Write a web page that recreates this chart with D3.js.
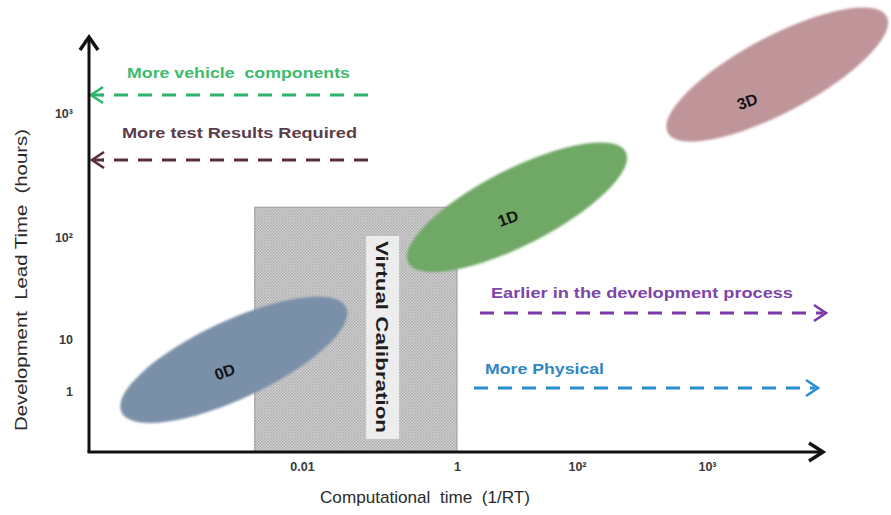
<!DOCTYPE html>
<html>
<head>
<meta charset="utf-8">
<script src="https://cdn.jsdelivr.net/npm/d3@7"></script>
<style>
  html,body{margin:0;padding:0;background:#fff;}
  svg{display:block;font-family:"Liberation Sans",Arial,sans-serif;}
</style>
</head>
<body>
<svg id="chart" width="891" height="515"></svg>
<script>
// ---- data (log10 units on both axes) ----
const xTickValues = [-2, 0, 2, 3];
const xTickLabels = ["0.01", "1", "10²", "10³"];
const yTickValues = [0, 1, 2, 3];
const yTickLabels = ["1", "10", "10²", "10³"];

const modelNames  = ["0D", "1D", "3D"];
const modelX      = [-2.88, 1.0, 3.54];   // log10 computational time
const modelY      = [0.6, 2.24, 3.31];    // log10 lead time
const modelColors = ["#7a90a9", "#6fa866", "#c0959a"];

const boxName = "Virtual Calibration";
const boxX = [-2.61, 0];
const boxY = [-0.75, 2.24];

const noteTexts  = ["More vehicle  components", "More test Results Required",
                    "Earlier in the development process", "More Physical"];
const noteColors = ["#3dbb6e", "#5c3b4a", "#7d45a8", "#2f86c6"];
const lineColors = ["#2cb56a", "#5a2e40", "#7a3aa8", "#2a8fcf"];
const noteDirs   = ["left", "left", "right", "right"];

// ---- layout ----
const svg = d3.select("#chart");
const axisX0 = 89, axisY0 = 452;

const x = d3.scaleLinear().domain(xTickValues).range([302, 457, 577, 707]);
const y = d3.scaleLinear().domain(yTickValues).range([391, 339, 237, 113]);

// pattern for the virtual calibration box
const defs = svg.append("defs");
const pat = defs.append("pattern").attr("id", "dots").attr("patternUnits", "userSpaceOnUse")
  .attr("width", 3).attr("height", 3);
pat.append("rect").attr("width", 3).attr("height", 3).attr("fill", "#d2d2d2");
pat.append("rect").attr("x", 0).attr("y", 0).attr("width", 1.5).attr("height", 1.5).attr("fill", "#a9a9a9");
pat.append("rect").attr("x", 1.5).attr("y", 1.5).attr("width", 1.5).attr("height", 1.5).attr("fill", "#b4b4b4");
defs.append("filter").attr("id", "soft").append("feGaussianBlur").attr("stdDeviation", 0.8);

// box
const bx0 = x(boxX[0]), bx1 = x(boxX[1]), by0 = y(boxY[1]);
svg.append("rect").attr("x", bx0).attr("y", by0).attr("width", bx1 - bx0).attr("height", axisY0 - by0)
  .attr("fill", "url(#dots)").attr("stroke", "#9a9a9a").attr("stroke-width", 1);
const lblCx = bx0 + (bx1 - bx0) * 0.63, lblCy = by0 + (axisY0 - by0) * 0.53;
svg.append("rect").attr("x", lblCx - 16).attr("y", lblCy - 101).attr("width", 33).attr("height", 203)
  .attr("fill", "#f1f1f1").attr("opacity", 0.92);
svg.append("text").attr("transform", `translate(${lblCx},${lblCy}) rotate(90)`)
  .attr("text-anchor", "middle").attr("dy", "0.36em")
  .attr("font-size", 17).attr("font-weight", "bold").attr("fill", "#1e1e1e")
  .attr("textLength", 192).attr("lengthAdjust", "spacingAndGlyphs").text(boxName);

// ellipses
const ellRx = [124, 122, 124], ellRy = [39, 38, 38], ellRot = [-25, -27, -28];
const lblOff = [[-9, 12], [-9, 11], [-30, 27]];
modelNames.forEach((n, i) => {
  const cx = x(modelX[i]), cy = y(modelY[i]);
  svg.append("ellipse").attr("transform", `translate(${cx},${cy}) rotate(${ellRot[i]})`)
    .attr("rx", ellRx[i]).attr("ry", ellRy[i]).attr("fill", modelColors[i]).attr("filter", "url(#soft)");
  svg.append("text").attr("transform", `translate(${cx + lblOff[i][0]},${cy + lblOff[i][1]}) rotate(-20)`)
    .attr("text-anchor", "middle").attr("dy", "0.35em")
    .attr("font-size", 16).attr("font-weight", "bold").attr("fill", "#141414").text(n);
});

// dashed annotation arrows
const noteLayout = [
  {tx: 127, ty: 78, w: 223, x0: 91, x1: 368, ly: 95},
  {tx: 122, ty: 138, w: 235, x0: 92, x1: 368, ly: 160},
  {tx: 491, ty: 298, w: 302, x0: 480, x1: 826, ly: 313},
  {tx: 485, ty: 374, w: 119, x0: 474, x1: 818, ly: 388}
];
noteTexts.forEach((t, i) => {
  const L = noteLayout[i];
  svg.append("text").attr("x", L.tx).attr("y", L.ty).attr("font-size", 15).attr("font-weight", "bold")
    .attr("xml:space", "preserve")
    .attr("textLength", L.w).attr("lengthAdjust", "spacingAndGlyphs")
    .attr("fill", noteColors[i]).text(t);
  const left = noteDirs[i] === "left";
  const lx0 = left ? L.x0 + 10 : L.x0, lx1 = left ? L.x1 : L.x1 - 3;
  svg.append("line").attr("x1", left ? lx1 : lx0).attr("x2", left ? lx0 : lx1).attr("y1", L.ly).attr("y2", L.ly)
    .attr("stroke", lineColors[i]).attr("stroke-width", 3).attr("stroke-dasharray", "14 10");
  const tip = left ? L.x0 : L.x1, s = left ? 1 : -1;
  svg.append("path").attr("d", `M${tip + s * 12},${L.ly - 8}L${tip},${L.ly}L${tip + s * 12},${L.ly + 8}`)
    .attr("fill", "none").attr("stroke", lineColors[i]).attr("stroke-width", 2.6);
  if (left) svg.append("line").attr("x1", tip).attr("x2", tip + 12).attr("y1", L.ly).attr("y2", L.ly)
    .attr("stroke", lineColors[i]).attr("stroke-width", 3);
});

// axes (labels via d3.axis)
const gx = svg.append("g").attr("transform", `translate(0,${axisY0 + 4})`)
  .call(d3.axisBottom(x).tickValues(xTickValues).tickFormat((d, i) => xTickLabels[i]).tickSize(0).tickPadding(6));
const gy = svg.append("g").attr("transform", `translate(73,0)`)
  .call(d3.axisLeft(y).tickValues(yTickValues).tickFormat((d, i) => yTickLabels[i]).tickSize(0).tickPadding(0));
[gx, gy].forEach(g => {
  g.select(".domain").remove();
  g.selectAll("text").attr("font-size", 12.5).attr("font-weight", "bold").attr("fill", "#3a3a3a")
    .attr("font-family", "Liberation Sans, Arial, sans-serif");
});

// axis lines with arrowheads
svg.append("path").attr("d", `M${axisX0},${axisY0}V38`).attr("stroke", "#111").attr("stroke-width", 3).attr("fill", "none");
svg.append("path").attr("d", `M${axisX0 - 9},50L${axisX0},37L${axisX0 + 9},50`).attr("stroke", "#111").attr("stroke-width", 3.5).attr("fill", "none");
svg.append("path").attr("d", `M${axisX0 - 1.5},${axisY0}H823`).attr("stroke", "#111").attr("stroke-width", 3).attr("fill", "none");
svg.append("path").attr("d", `M809,${axisY0 - 9}L823,${axisY0}L809,${axisY0 + 9}`).attr("stroke", "#111").attr("stroke-width", 3.5).attr("fill", "none");

// axis titles
svg.append("text").attr("transform", "translate(27,280) rotate(-90)").attr("text-anchor", "middle")
  .attr("font-size", 17).attr("fill", "#2a2a2a").attr("xml:space", "preserve")
  .attr("textLength", 302).attr("lengthAdjust", "spacingAndGlyphs")
  .text("Development  Lead Time  (hours)");
svg.append("text").attr("x", 425).attr("y", 503).attr("text-anchor", "middle")
  .attr("font-size", 17).attr("fill", "#2a2a2a").attr("xml:space", "preserve")
  .attr("textLength", 210).attr("lengthAdjust", "spacingAndGlyphs")
  .text("Computational  time  (1/RT)");
</script>
</body>
</html>
